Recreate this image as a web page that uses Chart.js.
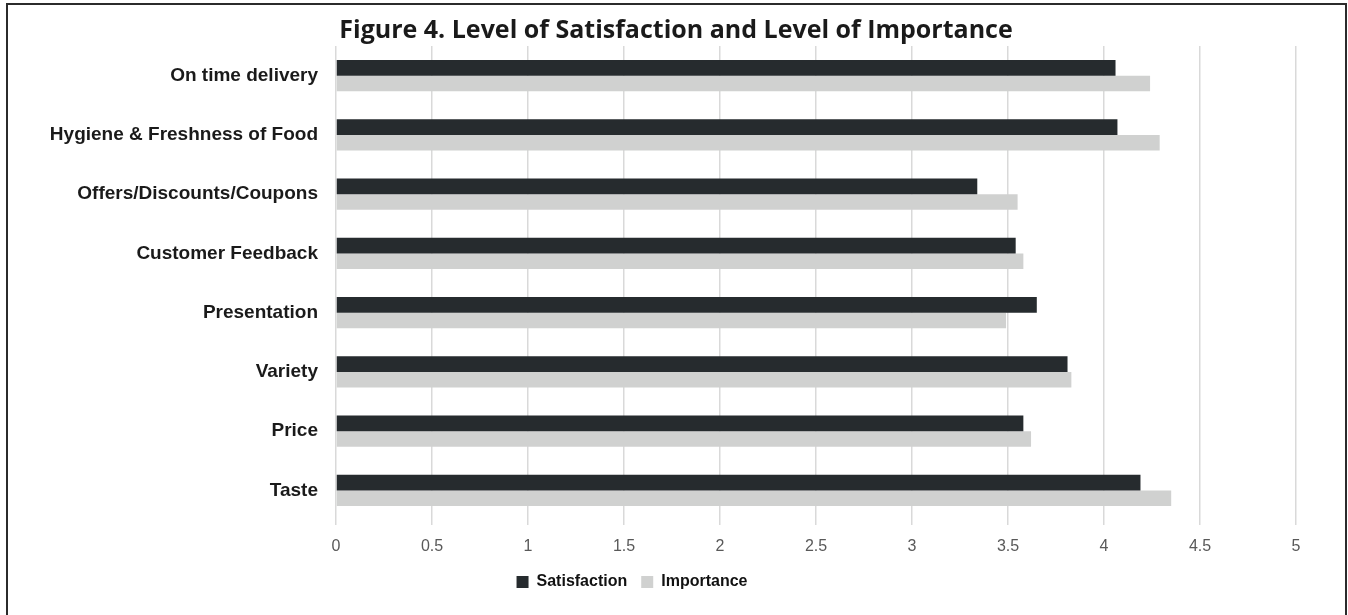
<!DOCTYPE html>
<html>
<head>
<meta charset="utf-8">
<script src="https://cdn.jsdelivr.net/npm/chart.js@4"></script>
<style>
  html, body { margin: 0; padding: 0; background: #fff; }
  #wrap { position: relative; width: 1348px; height: 615px; overflow: hidden; }
  #frame { position: absolute; left: 6px; top: 3px; width: 1341px; height: 640px;
           border: 2.5px solid #2b2b2b; box-sizing: border-box; }
  canvas { position: absolute; left: 0; top: 0; }
</style>
</head>
<body>
<div id="wrap">
  <div id="frame"></div>
  <canvas id="chart" width="1348" height="615"></canvas>
</div>
<script>
const categories = ['On time delivery', 'Hygiene & Freshness of Food', 'Offers/Discounts/Coupons',
  'Customer Feedback', 'Presentation', 'Variety', 'Price', 'Taste'];
const satisfaction = [4.06, 4.07, 3.34, 3.54, 3.65, 3.81, 3.58, 4.19];
const importance = [4.24, 4.29, 3.55, 3.58, 3.49, 3.83, 3.62, 4.35];
const xTicks = [0, 0.5, 1, 1.5, 2, 2.5, 3, 3.5, 4, 4.5, 5];

// nudge legend and title sideways so they sit where the original ones are
const blockShift = {
  id: 'blockShift',
  afterLayout(chart) {
    const lg = chart.legend;
    if (lg) { lg.left -= 16; lg.right -= 16; }
    const tb = chart.titleBlock;
    if (tb) { tb.left += 28; tb.right += 28; }
  }
};

new Chart(document.getElementById('chart').getContext('2d'), {
  type: 'bar',
  data: {
    labels: categories,
    datasets: [
      { label: 'Satisfaction', data: satisfaction, backgroundColor: '#262b2e',
        categoryPercentage: 0.53, barPercentage: 1 },
      { label: 'Importance', data: importance, backgroundColor: '#d0d1d0',
        categoryPercentage: 0.53, barPercentage: 1 }
    ]
  },
  options: {
    indexAxis: 'y',
    responsive: false,
    animation: false,
    layout: { padding: { left: 0, right: 52, top: 0, bottom: 15 } },
    scales: {
      x: {
        min: 0, max: 5,
        afterBuildTicks: s => { s.ticks = xTicks.map(v => ({ value: v })); },
        afterFit: s => { s.height = 40; },
        grid: { color: '#d9d9d9', lineWidth: 1.5, tickLength: 5, drawTicks: true },
        border: { display: false },
        ticks: { color: '#595959', padding: 12,
          callback: v => String(v),
          font: { family: 'Liberation Sans', size: 16 } }
      },
      y: {
        afterFit: s => { s.width = 336; },
        grid: { display: false },
        border: { display: false },
        ticks: { color: '#1a1a1a', padding: 10,
          font: { family: 'Liberation Sans', size: 19, weight: 'bold' } }
      }
    },
    plugins: {
      title: {
        display: true,
        text: 'Figure 4. Level of Satisfaction and Level of Importance',
        color: '#1a1a1a',
        font: { family: 'Open Sans', size: 25, weight: 'bold' },
        padding: { top: 16, bottom: 0 }
      },
      legend: {
        position: 'bottom',
        labels: { color: '#111', boxWidth: 12, boxHeight: 12, padding: 14,
          font: { family: 'Liberation Sans', size: 16, weight: 'bold' } }
      },
      tooltip: { enabled: false }
    }
  },
  plugins: [blockShift]
});
</script>
</body>
</html>
